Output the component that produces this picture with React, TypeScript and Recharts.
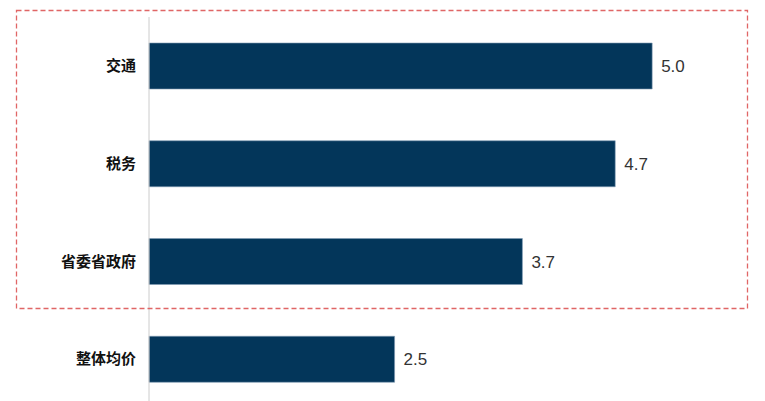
import React from 'react';
import { BarChart, Bar, XAxis, YAxis, LabelList } from 'recharts';

const categories = ['交通', '税务', '省委省政府', '整体均价'];
const scores = [5.04, 4.67, 3.74, 2.46];

const data = categories.map((name, i) => ({ name, score: scores[i] }));

const BAR_COLOR = '#03365A';

export default function App() {
  return (
    <div style={{ position: 'absolute', left: 0, top: 0, width: 765, height: 401, overflow: 'hidden', background: '#fff' }}>
      <BarChart
        width={765}
        height={410}
        data={data}
        layout="vertical"
        margin={{ top: 17, right: 17, left: 0, bottom: 2 }}
        barSize={46}
      >
        <XAxis type="number" domain={[0, 6]} hide />
        <YAxis
          type="category"
          dataKey="name"
          width={149}
          tickLine={false}
          tickMargin={7}
          axisLine={{ stroke: '#cccccc' }}
          tick={{
            fill: '#111',
            fontSize: 15,
            fontWeight: 'bold',
            fontFamily: '"Noto Sans CJK SC", sans-serif',
          }}
        />
        <Bar
          dataKey="score"
          fill={BAR_COLOR}
          stroke="#7f9bb3"
          strokeWidth={0.6}
          isAnimationActive={false}
        >
          <LabelList
            dataKey="score"
            position="right"
            offset={9}
            formatter={(v: number) => v.toFixed(1)}
            style={{ fill: '#333', fontSize: 17, fontFamily: '"Liberation Sans", Arial, sans-serif' }}
          />
        </Bar>
      </BarChart>

      {/* highlight box around the departments */}
      <svg
        width={765}
        height={401}
        style={{ position: 'absolute', left: 0, top: 0, pointerEvents: 'none' }}
      >
        <rect
          x={16.5}
          y={10.5}
          width={731}
          height={298}
          fill="none"
          stroke="#e06666"
          strokeWidth={1.3}
          strokeDasharray="5 3"
        />
      </svg>
    </div>
  );
}
